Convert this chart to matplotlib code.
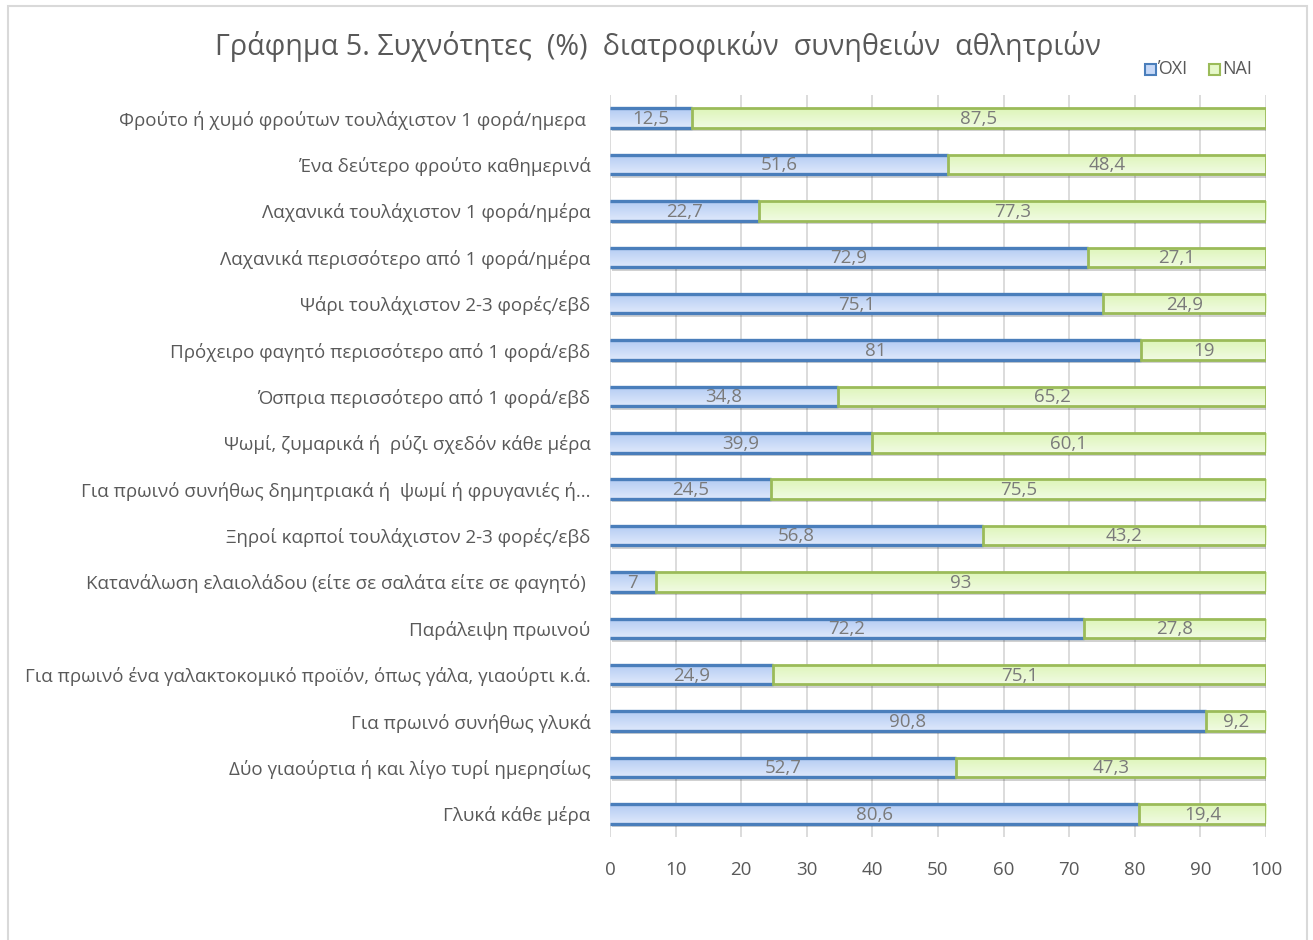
import numpy as np
import matplotlib
matplotlib.use("Agg")
import matplotlib.pyplot as plt
from matplotlib.patches import Rectangle
from matplotlib.colors import LinearSegmentedColormap
from matplotlib import patheffects as pe

plt.rcParams['font.family'] = ['Open Sans', 'DejaVu Sans']

categories = [
    "Φρούτο ή χυμό φρούτων τουλάχιστον 1 φορά/ημερα ",
    "Ένα δεύτερο φρούτο καθημερινά",
    "Λαχανικά τουλάχιστον 1 φορά/ημέρα",
    "Λαχανικά περισσότερο από 1 φορά/ημέρα",
    "Ψάρι τουλάχιστον 2-3 φορές/εβδ",
    "Πρόχειρο φαγητό περισσότερο από 1 φορά/εβδ",
    "Όσπρια περισσότερο από 1 φορά/εβδ",
    "Ψωμί, ζυμαρικά ή  ρύζι σχεδόν κάθε μέρα",
    "Για πρωινό συνήθως δημητριακά ή  ψωμί ή φρυγανιές ή...",
    "Ξηροί καρποί τουλάχιστον 2-3 φορές/εβδ",
    "Κατανάλωση ελαιολάδου (είτε σε σαλάτα είτε σε φαγητό) ",
    "Παράλειψη πρωινού",
    "Για πρωινό ένα γαλακτοκομικό προϊόν, όπως γάλα, γιαούρτι κ.ά.",
    "Για πρωινό συνήθως γλυκά",
    "Δύο γιαούρτια ή και λίγο τυρί ημερησίως",
    "Γλυκά κάθε μέρα",
]
oxi = [12.5, 51.6, 22.7, 72.9, 75.1, 81, 34.8, 39.9, 24.5, 56.8, 7, 72.2, 24.9, 90.8, 52.7, 80.6]
nai = [87.5, 48.4, 77.3, 27.1, 24.9, 19, 65.2, 60.1, 75.5, 43.2, 93, 27.8, 75.1, 9.2, 47.3, 19.4]
series_names = ["ΌΧΙ", "ΝΑΙ"]
xticks = [0, 10, 20, 30, 40, 50, 60, 70, 80, 90, 100]

W, H = 1313, 940
fig = plt.figure(figsize=(W / 100, H / 100), dpi=100)
fig.patch.set_facecolor("white")

# outer chart frame
fig.add_artist(Rectangle((8 / W, -0.01), (1307 - 8) / W, 1 - 6 / H + 0.01,
                         transform=fig.transFigure, fill=False,
                         edgecolor="#d9d9d9", linewidth=1.5))

ax = fig.add_axes([610 / W, 1 - 837 / H, (1266 - 610) / W, (837 - 95) / H])

text_col = "#595959"
label_col = "#7a7a7a"
bar_h = 0.42

blue_cmap = LinearSegmentedColormap.from_list("b", ["#b3cbf3", "#dfe9fb"])
green_cmap = LinearSegmentedColormap.from_list("g", ["#ddf5b8", "#f1fbe3"])
grad = np.linspace(0, 1, 64).reshape(-1, 1)

y = np.arange(len(categories))
shadow = [pe.SimplePatchShadow(offset=(1.5, -2.5), shadow_rgbFace="#000000", alpha=0.18), pe.Normal()]

for i in range(len(categories)):
    for k, (left, width, cmap, edge) in enumerate([(0, oxi[i], blue_cmap, "#4a7ebb"),
                                                   (oxi[i], nai[i], green_cmap, "#9bbb59")]):
        bar = ax.barh(y[i], width, left=left, height=bar_h, color="white",
                      linewidth=0, zorder=3)[0]
        bar.set_path_effects(shadow)
        img = ax.imshow(grad, cmap=cmap, aspect="auto", zorder=3.5,
                        extent=(left, left + width, y[i] + bar_h / 2, y[i] - bar_h / 2),
                        interpolation="bilinear")
        img.set_clip_path(bar)
        if k == 0:
            # first series: top and bottom edge lines only
            for yy in (y[i] - bar_h / 2, y[i] + bar_h / 2):
                ax.plot([left, left + width], [yy, yy], color=edge, linewidth=2.4,
                        solid_capstyle="butt", zorder=4)
        else:
            ax.add_patch(Rectangle((left, y[i] - bar_h / 2), width, bar_h, fill=False,
                                   edgecolor=edge, linewidth=2.0, zorder=4.2))
        txt = f"{width:g}".replace(".", ",")
        ax.text(left + width / 2, y[i] + 0.02, txt, ha="center", va="center",
                fontsize=13.5, color=label_col, zorder=5)

ax.set_xlim(0, 100)
ax.set_ylim(len(categories) - 0.5, -0.5)

ax.set_xticks(xticks)
ax.set_xticklabels([str(t) for t in xticks], fontsize=13.5, color=text_col)
ax.set_yticks(y)
ax.set_yticklabels(categories, fontsize=13.5, color=text_col)
ax.tick_params(axis="y", length=0, pad=14)
ax.tick_params(axis="x", length=0, pad=17)
ax.xaxis.grid(True, color="#d9d9d9", linewidth=1.3)
ax.set_axisbelow(True)
for s in ax.spines.values():
    s.set_visible(False)

fig.text(658 / W, 1 - 47 / H, "Γράφημα 5. Συχνότητες  (%)  διατροφικών  συνηθειών  αθλητριών",
         ha="center", va="center", fontsize=20.7, color=text_col)

# legend
for (x0, name, face, edge) in [(1145, series_names[0], "#c6d8f7", "#4a7ebb"),
                               (1209, series_names[1], "#e6f8c9", "#9bbb59")]:
    fig.add_artist(Rectangle((x0 / W, 1 - 75 / H), 11 / W, 11 / H, transform=fig.transFigure,
                             facecolor=face, edgecolor=edge, linewidth=1.5))
    fig.text((x0 + 13) / W, 1 - 69 / H, name, ha="left", va="center",
             fontsize=13, color=text_col)

fig.savefig("out.png", dpi=100)
